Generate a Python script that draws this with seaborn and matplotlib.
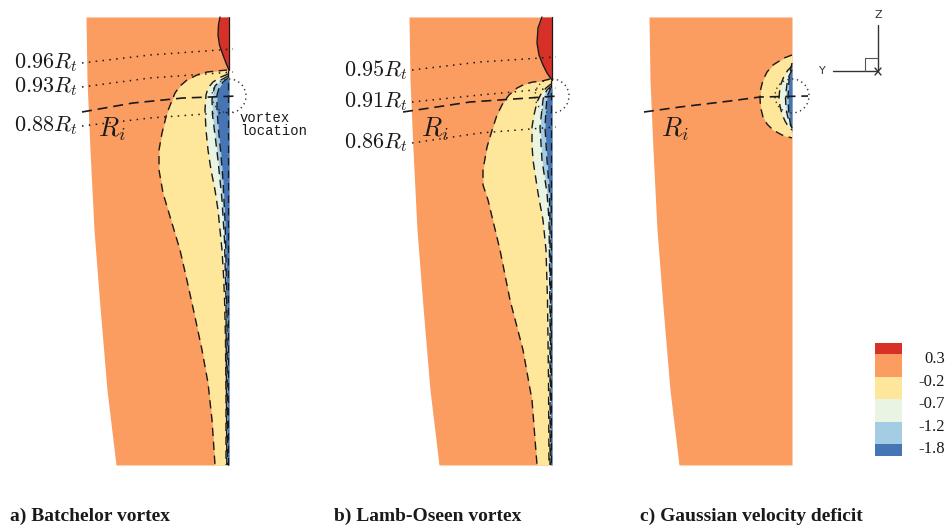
import matplotlib
matplotlib.use('Agg')
import matplotlib.pyplot as plt
import seaborn as sns
from matplotlib.patches import Circle

sns.set_theme(style='white')
plt.rcParams['mathtext.fontset'] = 'cm'

# legend levels and colours
level_labels = ['0.3', '-0.2', '-0.7', '-1.2', '-1.8']
level_colors = ['#d73027', '#fb9d61', '#fee79b', '#e9f5e2', '#a4cce3', '#4575b4']
swatch_heights = [0.5, 1, 1, 1, 1, 0.5]

# blade outline (x from trailing edge, y from top, pixels)
blade_y = [17, 80, 150, 230, 307, 390, 465]
blade_x = [-143, -142, -139, -135, -129, -122, -113]

# ---- a) Batchelor vortex
a_red_y = [17, 25, 35, 45, 55, 63, 70]
a_red_x = [-9, -10.5, -11, -9.5, -6, -3, 0]
a_yel_y = [70, 71, 72, 75, 80, 86, 93, 103, 113, 133, 150, 170, 193, 220, 250, 285, 317, 350, 383, 420, 465]
a_yel_x = [-2, -12, -22, -32, -42, -49, -54, -58, -62, -67, -70, -70, -66, -58, -49, -41, -34, -27, -21, -17, -14]
a_grn_y = [74, 77, 82, 88, 95, 110, 130, 150, 170, 190, 210, 230, 250, 275, 297, 340, 400, 465]
a_grn_x = [-1, -8, -16, -21, -23, -24, -23, -21, -18, -14, -11, -9, -7, -5.5, -4.5, -3.5, -3, -3]
a_lbl_y = [76, 80, 86, 93, 100, 115, 135, 160, 200, 240, 300, 465]
a_lbl_x = [-1, -8, -14, -16, -17, -16.5, -14, -11, -7, -4.5, -3, -2.2]
a_dbl_y = [78, 82, 88, 95, 110, 130, 150, 180, 220, 260, 320, 465]
a_dbl_x = [-1, -6, -10, -12, -12, -10.5, -8.5, -6, -4, -3, -2, -1.5]
a_radii = ['$0.96R_t$', '$0.93R_t$', '$0.88R_t$']
a_radii_x = [-147, -79, 4]
a_radii_y = [[63, 55, 49], [87, 78, 72], [126, 118, 112]]
a_ri_x = [-147, -96, -46, 9]
a_ri_y = [112, 103, 98, 96]

# ---- b) Lamb-Oseen vortex
b_red_y = [17, 28, 43, 55, 65, 73, 80]
b_red_x = [-10, -14, -15, -13, -9, -5, 0]
b_yel_y = [79, 81, 82, 84, 88, 95, 103, 115, 127, 147, 170, 185, 200, 225, 250, 300, 350, 400, 465]
b_yel_x = [-2, -10, -19, -27, -35, -43, -49, -55, -59, -65, -69, -69, -64, -58, -52, -42, -29, -20, -15]
b_grn_y = [84, 88, 94, 102, 115, 127, 145, 160, 193, 220, 250, 300, 380, 465]
b_grn_x = [-1, -6, -11, -15, -18, -20, -20, -19, -14, -9, -6, -4.5, -3.5, -3]
b_lbl_y = [86, 90, 95, 100, 127, 160, 193, 220, 260, 320, 465]
b_lbl_x = [-1, -5, -8, -9, -12, -10, -5, -3, -2.5, -2, -2]
b_dbl_y = [88, 92, 97, 110, 127, 160, 193, 230, 300, 465]
b_dbl_x = [-1, -3, -5, -6, -7, -5, -2.5, -2, -1.5, -1.2]
b_radii = ['$0.95R_t$', '$0.91R_t$', '$0.86R_t$']
b_radii_x = [-140, -72, 4]
b_radii_y = [[70, 62, 57], [102, 95, 88], [143, 133, 127]]
b_ri_x = [-149, -82, 6]
b_ri_y = [112, 102, 96]

# ---- c) Gaussian velocity deficit
c_yel_y = [55, 58, 65, 72, 80, 90, 98, 107, 117, 124, 130, 135, 138]
c_yel_x = [0, -8, -19, -25, -29, -31.5, -32, -31.5, -29, -25, -19, -10, 0]
c_grn_y = [66, 70, 76, 84, 92, 98, 106, 114, 121, 126, 130]
c_grn_x = [0, -4, -8, -11, -12.5, -13, -12, -10, -7, -4, 0]
c_lbl_y = [70, 76, 84, 92, 98, 108, 116, 122, 128]
c_lbl_x = [0, -3, -5, -6, -6.5, -6, -4.5, -2.5, 0]
c_dbl_y = [63, 70, 80, 98, 115, 125, 132]
c_dbl_x = [0, -1.5, -3, -4, -3, -1.5, 0]
c_ri_x = [-148, -112, -62, -32, 16]
c_ri_y = [112, 107, 101, 97, 96]

panel_edges = [229, 552, 792]
captions = ['a) Batchelor vortex', 'b) Lamb-Oseen vortex', 'c) Gaussian velocity deficit']
caption_x = [-219, -218, -152]

fig = plt.figure(figsize=(9.46, 5.27), dpi=100)
fig.patch.set_facecolor('white')

dash = (0, (6, 4))
dots = (0, (1, 3.5))


def line(ax, x, y, ls, color='#1a1a1a', lw=1.0):
    sns.lineplot(x=x, y=y, sort=False, estimator=None, ax=ax,
                 color=color, linestyle=ls, linewidth=lw)


def region(ax, y, x, color, ls=dash):
    ax.fill_betweenx(y, x, 0, color=color, linewidth=0)
    line(ax, x, y, ls)


axes = []
for edge in panel_edges:
    ax = fig.add_axes([0, 0, 1, 1])
    ax.set_xlim(-edge, 946 - edge)
    ax.set_ylim(527, 0)
    ax.axis('off')
    ax.patch.set_alpha(0)
    # blade body
    ax.fill_betweenx(blade_y, blade_x, 0, color=level_colors[1], linewidth=0)
    axes.append(ax)

ax_a, ax_b, ax_c = axes

# panel a
ax_a.fill_betweenx(a_red_y, a_red_x, 0, color=level_colors[0], linewidth=0)
line(ax_a, a_red_x, a_red_y, '-', lw=1.0)
region(ax_a, a_yel_y, a_yel_x, level_colors[2])
region(ax_a, a_grn_y, a_grn_x, level_colors[3])
region(ax_a, a_lbl_y, a_lbl_x, level_colors[4])
region(ax_a, a_dbl_y, a_dbl_x, level_colors[5])

# panel b
ax_b.fill_betweenx(b_red_y, b_red_x, 0, color=level_colors[0], linewidth=0)
line(ax_b, b_red_x, b_red_y, '-', lw=1.0)
region(ax_b, b_yel_y, b_yel_x, level_colors[2])
region(ax_b, b_grn_y, b_grn_x, level_colors[3])
region(ax_b, b_lbl_y, b_lbl_x, level_colors[4])
region(ax_b, b_dbl_y, b_dbl_x, level_colors[5])

# panel c
region(ax_c, c_yel_y, c_yel_x, level_colors[2])
region(ax_c, c_grn_y, c_grn_x, level_colors[3])
region(ax_c, c_lbl_y, c_lbl_x, level_colors[4])
region(ax_c, c_dbl_y, c_dbl_x, level_colors[5])

# trailing edge: solid along the red lens, dashed contour lines below
for ax, top in [(ax_a, a_red_y), (ax_b, b_red_y)]:
    ax.plot([0, 0], [top[0], top[-1]], color='#1a1a1a', lw=0.9)
    ax.plot([-0.6, -0.6], [top[-1], 465], color='#1a1a1a', lw=0.9, ls=dash)

# radius reference lines and labels
for ax, labels, rx, ry in [(ax_a, a_radii, a_radii_x, a_radii_y),
                           (ax_b, b_radii, b_radii_x, b_radii_y)]:
    for lab, ys in zip(labels, ry):
        line(ax, rx, ys, dots, lw=1.1)
        ax.text(rx[0] - 5, ys[0], lab, ha='right', va='center', fontsize=16,
                color='#1a1a1a')

# R_i lines
for ax, rx, ry in [(ax_a, a_ri_x, a_ri_y), (ax_b, b_ri_x, b_ri_y), (ax_c, c_ri_x, c_ri_y)]:
    line(ax, rx, ry, (0, (6, 3.5)), lw=1.2)
    ax.text(-131, 129, '$R_i$', ha='left', va='center', fontsize=19, color='#1a1a1a')
    # vortex location circle
    ax.add_patch(Circle((0, 96), 17, fill=False, ec='#333333', lw=1.0, ls=(0, (1, 2.5))))

ax_a.text(11, 118, 'vortex', ha='left', va='center', fontsize=10,
          family='Liberation Mono', color='#1a1a1a')
ax_a.text(11, 131, 'location', ha='left', va='center', fontsize=10,
          family='Liberation Mono', color='#1a1a1a')

# captions
for ax, cap, cx in zip(axes, captions, caption_x):
    ax.text(cx, 516, cap, ha='left', va='center', fontsize=14, fontweight='bold',
            family='Liberation Serif', color='#1a1a1a')

# coordinate icon (panel c frame)
ax_c.plot([86, 86], [25, 71], color='#333333', lw=1)
ax_c.plot([41, 86], [71, 71], color='#333333', lw=1)
ax_c.plot([73, 73, 86], [71, 58, 58], color='#555555', lw=0.8)
ax_c.plot([83, 89], [68, 75], color='#333333', lw=1)
ax_c.plot([83, 89], [75, 68], color='#333333', lw=1)
ax_c.text(86, 15, 'Z', ha='center', va='center', fontsize=8, color='#333333')
ax_c.text(30, 71, 'Y', ha='center', va='center', fontsize=8, color='#333333')

# legend
sw_top = 343
sw_unit = 22.5
bottom = sw_top
bounds = []
for h, col in zip(swatch_heights, level_colors):
    ax_c.bar(96.5, h * sw_unit, bottom=bottom, width=27, color=col, linewidth=0)
    bottom += h * sw_unit
    bounds.append(bottom)
for lab, b in zip(level_labels, bounds[:-1]):
    ax_c.text(153, b + 5, lab, ha='right', va='center', fontsize=12,
              family='Liberation Serif', color='#1a1a1a')

fig.savefig('out.png', dpi=100)
